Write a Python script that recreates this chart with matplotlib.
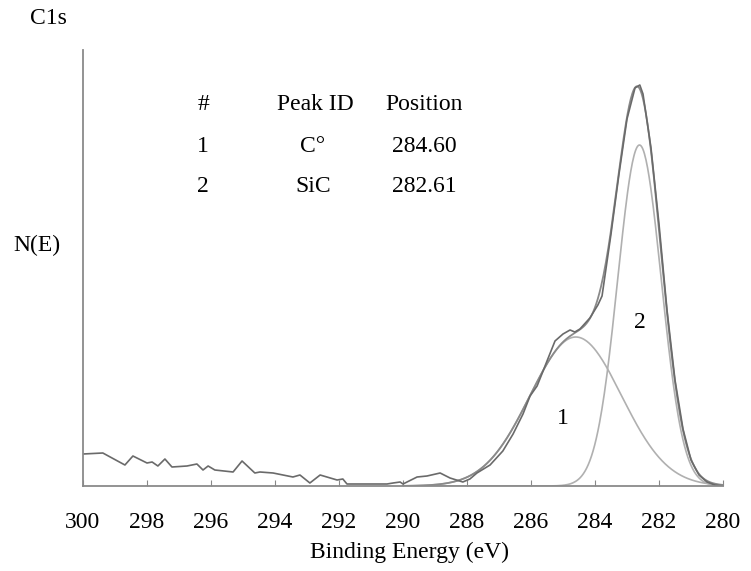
import numpy as np
import matplotlib
matplotlib.use('Agg')
import matplotlib.pyplot as plt

plt.rcParams['font.family'] = ['Liberation Serif', 'DejaVu Serif']

# measured C1s spectrum (binding energy eV, counts in arbitrary units)
energy = [300.0, 299.38, 298.69, 298.44, 298.0, 297.84, 297.66, 297.44, 297.22,
          296.75, 296.44, 296.25, 296.09, 295.88, 295.31, 295.03, 294.63, 294.47,
          294.06, 293.44, 293.22, 292.91, 292.59, 292.06, 291.88, 291.75, 291.13,
          290.5, 290.31, 290.09, 290.0, 289.56, 289.25, 288.84, 288.53, 288.13,
          287.91, 287.69, 287.28, 286.88, 286.56, 286.25, 286.03, 285.81, 285.66,
          285.5, 285.25, 285.0, 284.78, 284.63, 284.47, 284.16, 283.91, 283.78,
          283.5, 283.25, 283.0, 282.75, 282.6, 282.5, 282.25, 282.0, 281.75,
          281.5, 281.25, 281.0, 280.75, 280.5, 280.25, 280.0]
counts = [32, 33, 21, 30, 23, 24, 20, 27, 19,
          20, 22, 16, 20, 16, 14, 25, 13, 14,
          13, 9, 11, 3, 11, 6, 7, 2, 2,
          2, 3, 4, 2, 9, 10, 13, 8, 4,
          7, 13, 21, 35, 52, 72, 90, 100, 112,
          125, 145, 152, 156, 154, 157, 168, 181, 190,
          252, 312, 367, 398, 401, 392, 338, 262, 176,
          106, 57, 26, 11, 4, 1, 0]

# fitted peaks
peak_ids = ['1', '2']
peak_names = ['C°', 'SiC']
peak_pos = [284.60, 282.61]
peak_height = [149, 341]
peak_sigma = [1.43, 0.68]

fig = plt.figure(figsize=(7.51, 5.71), dpi=100)
ax = fig.add_axes([83 / 751, 85 / 571, 640 / 751, 436 / 571])

e = np.linspace(280, 290, 400)
comps = [h * np.exp(-(e - c) ** 2 / (2 * s ** 2))
         for c, h, s in zip(peak_pos, peak_height, peak_sigma)]
for comp in comps:
    ax.plot(e, comp, color='#b0b0b0', lw=1.2)
ax.plot(e, comps[0] + comps[1], color='#8a8a8a', lw=1.3)
ax.plot(energy, counts, color='#6a6a6a', lw=1.2)

ax.set_xlim(300, 280)
ax.set_ylim(0, 436)
ax.set_xticks(range(300, 279, -2))
ax.set_yticks([])
ax.tick_params(axis='x', direction='in', length=4, color='#888888',
               labelsize=17, pad=19)
for side in ['top', 'right']:
    ax.spines[side].set_visible(False)
for side in ['left', 'bottom']:
    ax.spines[side].set_color('#8a8a8a')
    ax.spines[side].set_linewidth(1.3)

fig.text(410 / 751, 1 - 552 / 571, 'Binding Energy (eV)', fontsize=17,
         ha='center', va='center')
fig.text(48 / 751, 1 - 18 / 571, 'C1s', fontsize=17, ha='center', va='center')
fig.text(37 / 751, 1 - 245 / 571, 'N(E)', fontsize=17, ha='center', va='center')

# peak table
rows_y = [104, 146, 187]
fig.text(203 / 751, 1 - rows_y[0] / 571, '#', fontsize=17, ha='center', va='center')
fig.text(315 / 751, 1 - rows_y[0] / 571, 'Peak ID', fontsize=17, ha='center', va='center')
fig.text(424 / 751, 1 - rows_y[0] / 571, 'Position', fontsize=17, ha='center', va='center')
for i in range(len(peak_ids)):
    y = 1 - rows_y[i + 1] / 571
    fig.text(203 / 751, y, peak_ids[i], fontsize=17, ha='center', va='center')
    fig.text(313 / 751, y, peak_names[i], fontsize=17, ha='center', va='center')
    fig.text(424 / 751, y, f'{peak_pos[i]:.2f}', fontsize=17, ha='center', va='center')

# labels on components
ax.text(285.0, 67, '1', fontsize=17, ha='center', va='center')
ax.text(282.6, 163, '2', fontsize=17, ha='center', va='center')

fig.savefig('out.png', dpi=100)
